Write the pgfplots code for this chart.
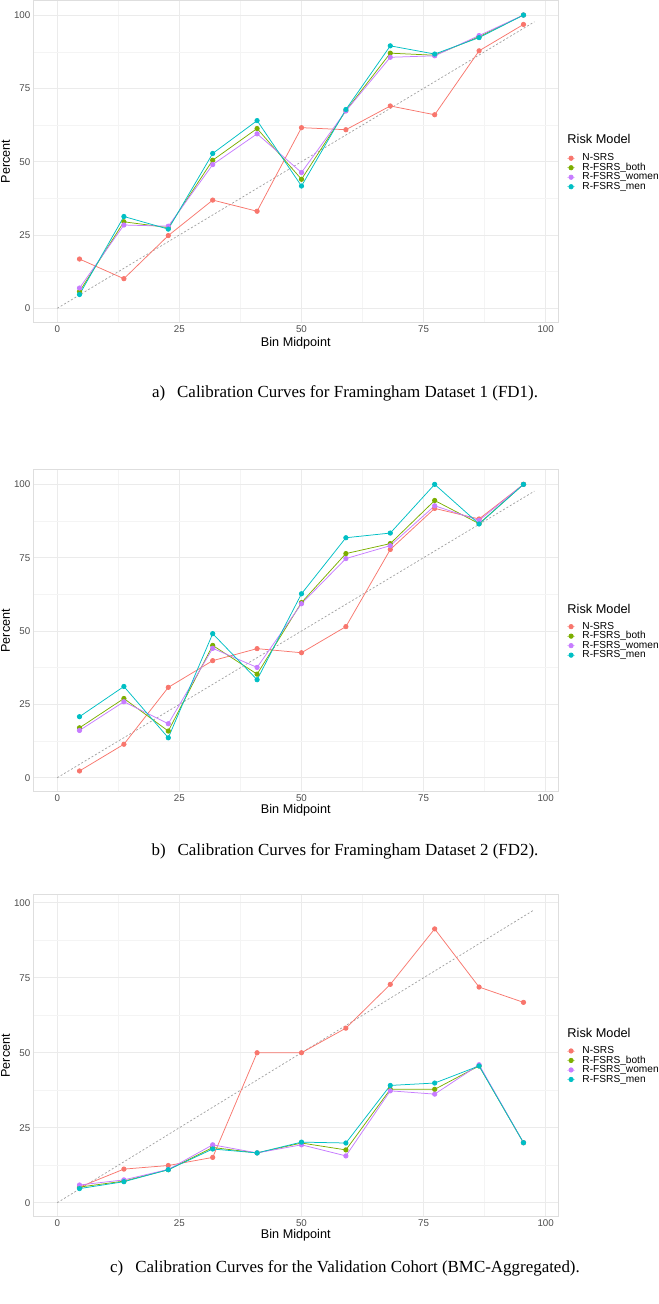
\documentclass[border=0pt]{standalone}
\usepackage{fontspec}
\setmainfont{Liberation Sans}
\newfontfamily\capfont{Liberation Serif}
\usepackage{pgfplots}
\usepackage{pgfplotstable}
\pgfplotsset{compat=1.18}

\definecolor{cRed}{HTML}{F8766D}
\definecolor{cGreen}{HTML}{7CAE00}
\definecolor{cPurple}{HTML}{C77CFF}
\definecolor{cCyan}{HTML}{00BFC4}
\definecolor{gridmaj}{HTML}{EBEBEB}
\definecolor{gridmin}{HTML}{F4F4F4}
\definecolor{boxc}{HTML}{DEDEDE}
\definecolor{tickc}{HTML}{4D4D4D}

% calibration data, bin midpoint vs observed percent
\pgfplotstableread{
mid   nsrs  both  women men
4.55  16.8  5.7   6.9   4.7
13.64 10.1  29.5  28.4  31.3
22.73 24.8  27.5  28.0  27.0
31.82 36.9  50.5  49.0  52.8
40.91 33.1  61.3  59.5  64.0
50.00 61.6  44.0  46.3  41.7
59.09 60.9  67.4  67.3  67.8
68.18 69.0  87.0  85.6  89.5
77.27 66.0  86.3  86.1  86.7
86.36 87.8  92.6  93.0  92.3
95.45 96.8  100   100   100
}\fdone
\pgfplotstableread{
mid   nsrs  both  women men
4.55  2.3   17.0  16.1  20.8
13.64 11.4  27.0  25.9  31.1
22.73 30.8  15.9  18.4  13.6
31.82 39.9  45.1  44.1  49.1
40.91 44.0  35.3  37.6  33.4
50.00 42.6  59.7  59.3  62.7
59.09 51.5  76.4  74.7  81.8
68.18 77.8  79.8  79.1  83.4
77.27 91.8  94.5  92.7  100
86.36 88.2  86.6  87.7  86.5
95.45 100   100   100   100
}\fdtwo
\pgfplotstableread{
mid   nsrs  both  women men
4.55  5.2   5.2   5.9   4.7
13.64 11.2  7.2   7.6   7.0
22.73 12.4  11.0  11.1  11.0
31.82 15.1  18.4  19.3  17.9
40.91 50.0  16.6  16.6  16.6
50.00 50.0  19.9  19.3  20.2
59.09 58.2  17.6  15.6  19.9
68.18 72.8  37.8  37.3  39.1
77.27 91.3  37.8  36.2  39.9
86.36 71.9  45.6  46.0  45.6
95.45 66.8  20.0  20.0  20.0
}\bmc

\pgfplotsset{
  calib/.style={
    scale only axis, width=525bp, anchor=south west, clip=false,
    xmin=-4.91, xmax=102.58,
    xtick={0,25,50,75,100}, ytick={0,25,50,75,100},
    xticklabels={0,25,50,75,100}, yticklabels={0,25,50,75,100},
    minor tick num=1, grid=both,
    major grid style={draw=gridmaj, line width=0.6bp},
    minor grid style={draw=gridmin, line width=0.4bp},
    axis line style={draw=boxc, line width=0.6bp},
    major tick length=0pt, minor tick length=0pt,
    tick label style={font=\fontsize{9.8}{10}\selectfont, text=tickc, inner sep=0pt},
    xticklabel style={yshift=-3.2bp},
    yticklabel style={xshift=-2.8bp},
    xlabel={Bin Midpoint}, ylabel={Percent},
    every axis x label/.style={at={(axis description cs:0.5,0)}, anchor=center, yshift=-19bp, font=\fontsize{12.7}{14}\selectfont},
    every axis y label/.style={at={(axis description cs:0,0.5)}, anchor=center, xshift=-27.6bp, rotate=90, font=\fontsize{12.7}{14}\selectfont},
    legend style={draw=none, fill=none, anchor=north west, inner sep=0pt, outer sep=0pt,
      row sep=0pt, column sep=7bp, font=\fontsize{10.2}{11}\selectfont,
      nodes={inner sep=0pt, text height=7.5bp, text depth=2bp}},
    legend cell align=left,
    legend image code/.code={
      \draw[#1, mark=none, opacity=0.35] (0bp,0bp) -- (8bp,0bp);
      \draw[#1, only marks] plot coordinates {(4bp,0bp)};},
  },
  ln/.style={line width=0.75bp, mark=*, mark size=2.2bp, mark options={solid}},
  diag/.style={gray!75, line width=0.7bp, dash pattern=on 2bp off 2bp, forget plot},
}

\newcommand{\riskplots}[1]{%
  \addplot[diag] coordinates {(0,0) (97.7,97.7)};
  \addplot[ln, cRed] table[x=mid, y=nsrs] {#1}; \addlegendentry{N-SRS}
  \addplot[ln, cGreen] table[x=mid, y=both] {#1}; \addlegendentry{R-FSRS\_both}
  \addplot[ln, cPurple] table[x=mid, y=women] {#1}; \addlegendentry{R-FSRS\_women}
  \addplot[ln, cCyan] table[x=mid, y=men] {#1}; \addlegendentry{R-FSRS\_men}
}
\newcommand{\legtitle}[1]{%
  \node[anchor=west, inner sep=0pt, font=\fontsize{12.8}{14}\selectfont] at (axis description cs:1.0171,#1) {Risk Model};}

\begin{document}
\begin{tikzpicture}
\useasboundingbox (0bp,0bp) rectangle (659bp,1304bp);

% a) FD1
\begin{axis}[calib, at={(33.3bp,981.7bp)}, height=321.6bp,
    ymin=-4.77, ymax=104.9,
    every axis x label/.append style={yshift=-1.5bp},
    legend style={at={(1.016,0.5249)}}]
  \riskplots{\fdone}
  \legtitle{0.570}
\end{axis}

% b) FD2
\begin{axis}[calib, at={(33.3bp,512.3bp)}, height=322bp,
    ymin=-4.77, ymax=105.0,
    legend style={at={(1.016,0.5273)}}]
  \riskplots{\fdtwo}
  \legtitle{0.567}
\end{axis}

% c) validation cohort
\begin{axis}[calib, at={(33.3bp,87.3bp)}, height=322bp,
    ymin=-4.67, ymax=102.7,
    legend style={at={(1.016,0.5295)}}]
  \riskplots{\bmc}
  \legtitle{0.5696}
\end{axis}

\begin{scope}[every node/.style={font=\capfont\fontsize{17}{20}\selectfont, inner sep=0pt}]
  \node at (345bp,911bp) {a)\hspace{12bp}Calibration Curves for Framingham Dataset 1 (FD1).};
  \node at (345bp,453bp) {b)\hspace{12bp}Calibration Curves for Framingham Dataset 2 (FD2).};
  \node at (345bp,36bp) {c)\hspace{12bp}Calibration Curves for the Validation Cohort (BMC-Aggregated).};
\end{scope}
\end{tikzpicture}
\end{document}
